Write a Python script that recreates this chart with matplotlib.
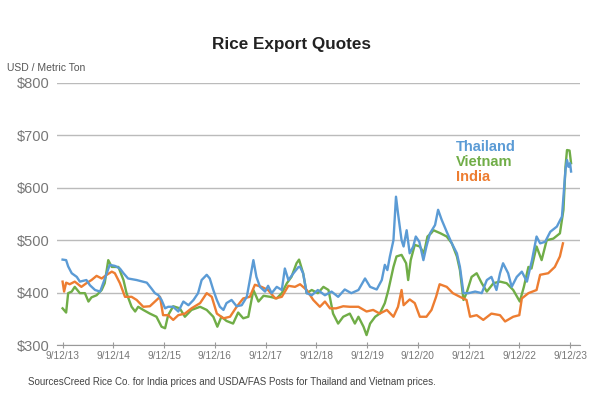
import matplotlib
matplotlib.use("Agg")
import matplotlib.pyplot as plt

plt.rcParams['font.family'] = ['Liberation Sans', 'DejaVu Sans']

# years after 9/12/13 and USD per metric ton
thai_t = [0.0, 0.07, 0.11, 0.18, 0.28, 0.34, 0.47, 0.54, 0.64, 0.74, 0.80, 0.87, 0.93, 1.03, 1.13,
          1.20, 1.29, 1.46, 1.66, 1.75, 1.82, 1.89, 1.95, 2.02, 2.08, 2.18, 2.28, 2.38, 2.48, 2.58,
          2.67, 2.74, 2.84, 2.90, 2.97, 3.04, 3.10, 3.17, 3.23, 3.33, 3.43, 3.53, 3.63, 3.69, 3.76,
          3.82, 3.89, 3.99, 4.05, 4.12, 4.22, 4.32, 4.38, 4.45, 4.55, 4.65, 4.68, 4.74, 4.81, 4.91,
          5.03, 5.17, 5.30, 5.43, 5.56, 5.69, 5.83, 5.96, 6.06, 6.19, 6.29, 6.35, 6.40, 6.45, 6.52,
          6.57, 6.61, 6.68, 6.72, 6.78, 6.84, 6.91, 6.96, 7.03, 7.11, 7.17, 7.24, 7.34, 7.40, 7.47,
          7.57, 7.67, 7.77, 7.83, 7.90, 8.00, 8.13, 8.26, 8.36, 8.45, 8.55, 8.62, 8.68, 8.78, 8.85,
          8.95, 9.05, 9.15, 9.25, 9.34, 9.41, 9.51, 9.61, 9.74, 9.84, 9.91, 9.94, 9.97, 10.0, 10.02]
thai_v = [463, 462, 450, 437, 430, 421, 424, 414, 405, 402, 418, 437, 453, 451, 446,
          437, 427, 424, 419, 408, 399, 395, 386, 370, 373, 373, 364, 383, 376, 386,
          399, 424, 434, 427, 405, 386, 373, 367, 380, 386, 374, 376, 392, 424, 462,
          430, 411, 402, 413, 399, 411, 405, 446, 424, 437, 449, 449, 437, 399, 395,
          405, 395, 402, 392, 406, 399, 405, 427, 411, 406, 424, 453, 443, 469, 500,
          583, 551, 500, 488, 519, 475, 488, 507, 497, 462, 488, 513, 529, 558, 539,
          516, 494, 475, 449, 399, 399, 402, 399, 424, 430, 405, 437, 456, 437, 411,
          430, 440, 421, 462, 507, 494, 497, 516, 526, 545, 634, 653, 640, 647, 631]

viet_t = [0.0, 0.07, 0.11, 0.18, 0.24, 0.34, 0.44, 0.51, 0.57, 0.67, 0.77, 0.83, 0.90, 0.97, 1.10,
          1.20, 1.26, 1.36, 1.43, 1.49, 1.59, 1.72, 1.85, 1.95, 2.02, 2.08, 2.18, 2.31, 2.41, 2.54,
          2.71, 2.84, 2.97, 3.05, 3.13, 3.23, 3.36, 3.46, 3.56, 3.66, 3.76, 3.86, 3.96, 4.09, 4.22,
          4.32, 4.42, 4.51, 4.61, 4.66, 4.74, 4.81, 4.91, 5.03, 5.14, 5.24, 5.33, 5.43, 5.53, 5.66,
          5.76, 5.83, 5.93, 5.99, 6.06, 6.16, 6.25, 6.35, 6.42, 6.52, 6.58, 6.68, 6.77, 6.81, 6.86,
          6.94, 7.04, 7.12, 7.19, 7.26, 7.31, 7.45, 7.57, 7.67, 7.77, 7.83, 7.90, 7.96, 8.06, 8.16,
          8.26, 8.36, 8.49, 8.62, 8.75, 8.88, 9.01, 9.09, 9.18, 9.24, 9.34, 9.44, 9.54, 9.67, 9.80,
          9.87, 9.91, 9.94, 9.99, 10.02]
viet_v = [370, 362, 399, 402, 411, 399, 399, 383, 391, 395, 405, 418, 462, 449, 449,
          424, 399, 373, 364, 373, 367, 360, 354, 335, 332, 357, 374, 370, 354, 367,
          373, 367, 354, 335, 354, 346, 341, 362, 351, 354, 405, 383, 394, 392, 389,
          399, 418, 430, 456, 463, 437, 399, 405, 399, 411, 405, 360, 341, 354, 360,
          341, 354, 335, 319, 341, 354, 360, 380, 405, 449, 469, 472, 456, 424, 462,
          491, 488, 475, 507, 513, 519, 513, 507, 494, 469, 443, 386, 399, 430, 437,
          418, 402, 418, 421, 418, 405, 383, 411, 449, 446, 488, 462, 500, 503, 513,
          558, 640, 672, 671, 647]

india_t = [0.0, 0.03, 0.07, 0.14, 0.24, 0.37, 0.47, 0.57, 0.67, 0.77, 0.87, 0.97, 1.03, 1.13, 1.23,
           1.36, 1.46, 1.59, 1.72, 1.82, 1.92, 1.98, 2.08, 2.18, 2.28, 2.41, 2.54, 2.71, 2.84, 2.94,
           3.04, 3.17, 3.30, 3.43, 3.56, 3.69, 3.79, 3.92, 4.05, 4.19, 4.32, 4.45, 4.58, 4.68, 4.81,
           4.94, 5.07, 5.17, 5.27, 5.39, 5.53, 5.66, 5.83, 5.99, 6.12, 6.25, 6.39, 6.52, 6.61, 6.68,
           6.72, 6.84, 6.94, 7.04, 7.17, 7.27, 7.36, 7.43, 7.57, 7.69, 7.83, 7.96, 8.03, 8.16, 8.29,
           8.45, 8.62, 8.72, 8.88, 9.00, 9.05, 9.18, 9.34, 9.41, 9.57, 9.70, 9.80, 9.86]
india_v = [421, 402, 419, 416, 421, 411, 418, 424, 432, 427, 434, 440, 437, 418, 392,
           392, 386, 373, 374, 383, 392, 357, 357, 348, 357, 360, 370, 380, 399, 392,
           360, 351, 354, 373, 389, 392, 415, 411, 405, 389, 392, 413, 411, 416, 405,
           386, 373, 383, 370, 370, 374, 373, 373, 364, 367, 360, 367, 354, 373, 405,
           376, 387, 380, 354, 354, 367, 392, 416, 411, 399, 392, 386, 354, 357, 348,
           360, 357, 345, 354, 357, 389, 399, 405, 434, 437, 449, 469, 494]

tick_labels = ['9/12/13', '9/12/14', '9/12/15', '9/12/16', '9/12/17', '9/12/18',
               '9/12/19', '9/12/20', '9/12/21', '9/12/22', '9/12/23']
y_ticks = [300, 400, 500, 600, 700, 800]

fig = plt.figure(figsize=(6, 3.93), dpi=100)
ax = fig.add_axes([0.095, 0.122, 0.872, 0.667])

ax.plot(thai_t, thai_v, color='#5b9bd5', lw=1.7, zorder=3)
ax.plot(viet_t, viet_v, color='#70ad47', lw=1.7, zorder=2)
ax.plot(india_t, india_v, color='#ed7d31', lw=1.7, zorder=2)

ax.set_ylim(300, 800)
ax.set_xlim(-0.11, 10.2)
ax.set_yticks(y_ticks)
ax.set_yticklabels(['$%d' % v for v in y_ticks], color='#777777', fontsize=10.5)
ax.set_xticks(range(len(tick_labels)))
ax.set_xticklabels(tick_labels, color='#777777', fontsize=7.3)
ax.grid(axis='y', color='#bbbbbb', lw=1)
ax.set_axisbelow(True)
for s in ['top', 'right', 'left']:
    ax.spines[s].set_visible(False)
ax.spines['bottom'].set_color('#999999')
ax.tick_params(axis='y', length=0, pad=5)
ax.tick_params(axis='x', length=5, direction='inout', color='#999999', pad=2)

fig.text(0.485, 0.887, 'Rice Export Quotes', ha='center', va='center',
         fontsize=12.3, fontweight='bold', color='#222222')
fig.text(0.012, 0.828, 'USD / Metric Ton', ha='left', va='center', fontsize=7.5, color='#555555')
ax.text(0.763, 0.757, 'Thailand', transform=ax.transAxes, color='#5b9bd5',
        fontsize=10.5, fontweight='bold', va='center')
ax.text(0.763, 0.70, 'Vietnam', transform=ax.transAxes, color='#70ad47',
        fontsize=10.5, fontweight='bold', va='center')
ax.text(0.763, 0.64, 'India', transform=ax.transAxes, color='#ed7d31',
        fontsize=10.5, fontweight='bold', va='center')
fig.text(0.047, 0.028, 'SourcesCreed Rice Co. for India prices and USDA/FAS Posts for Thailand and Vietnam prices.',
         ha='left', va='center', fontsize=7, color='#444444')

fig.savefig('out.png', dpi=100)
